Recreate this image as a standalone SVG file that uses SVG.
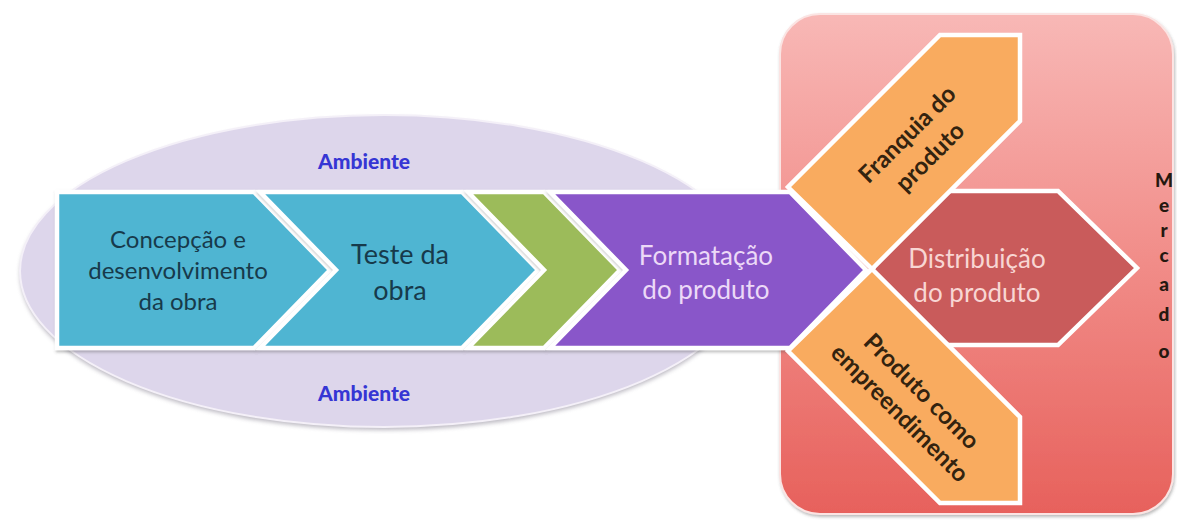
<svg xmlns="http://www.w3.org/2000/svg" width="1177" height="523" viewBox="0 0 1177 523">
<defs>
<linearGradient id="redGrad" x1="0" y1="0" x2="0" y2="1">
<stop offset="0" stop-color="#f8b8b6"/>
<stop offset="0.5" stop-color="#f18c88"/>
<stop offset="1" stop-color="#e7615c"/>
</linearGradient>
<filter id="shadow" x="-5%" y="-5%" width="110%" height="115%">
<feDropShadow dx="1" dy="2" stdDeviation="1.5" flood-color="#555" flood-opacity="0.4"/>
</filter>
<filter id="blur"><feGaussianBlur stdDeviation="2"/></filter>
</defs>
<style>
.shape { stroke: #ffffff; stroke-width: 4.5; stroke-linejoin: miter; }
.blue { fill: #50b5d2; }
.green { fill: #9cbb5a; }
.purple { fill: #8956c9; }
.dist { fill: #c95b5b; }
.orange { fill: #f9ab5f; }
.t { font-family: Lato, "Open Sans", sans-serif; text-anchor: middle; }
.tblue { fill: #173a4b; font-size: 24px; }
.tteste { fill: #173a4b; font-size: 27px; }
.tpurple { fill: #ecd9f7; font-size: 26px; }
.tdist { fill: #f8d6d3; font-size: 26px; }
.torange { fill: #33230f; font-size: 24px; font-weight: bold; }
.tamb { fill: #3636d4; font-size: 21px; font-weight: 900; }
.tmerc { fill: #25180f; font-size: 19px; font-weight: 900; }
</style>

<g id="ambiente">
<ellipse cx="384" cy="274" rx="364" ry="156" fill="#8f8a99" opacity="0.6" filter="url(#blur)"/>
<ellipse cx="384" cy="271" rx="364" ry="156" fill="#ddd6eb" stroke="#f4f0f8" stroke-width="2"/>
<text class="t tamb" x="364" y="169">Ambiente</text>
<text class="t tamb" x="364" y="401">Ambiente</text>
</g>

<g id="mercado">
<rect x="780" y="14" width="393" height="500" rx="40" ry="40" fill="url(#redGrad)" stroke="#fbe4e3" stroke-width="2" filter="url(#shadow)"/>
<text class="t tmerc" x="1164" y="187">M</text>
<text class="t tmerc" x="1164" y="212">e</text>
<text class="t tmerc" x="1164" y="237">r</text>
<text class="t tmerc" x="1164" y="262">c</text>
<text class="t tmerc" x="1164" y="291">a</text>
<text class="t tmerc" x="1164" y="321">d</text>
<text class="t tmerc" x="1164" y="358">o</text>
</g>

<g id="connectors"></g>

<g id="concepcao">
<path class="shape blue" filter="url(#shadow)" d="M57,192 L254,192 L330,270 L254,348 L57,348 Z"/>
<text class="t tblue" x="178" y="248">Concepção e</text>
<text class="t tblue" x="178" y="279">desenvolvimento</text>
<text class="t tblue" x="178" y="310">da obra</text>
</g>

<g id="teste">
<path class="shape blue" filter="url(#shadow)" d="M260,192 L462,192 L538,270 L462,348 L260,348 L336,270 Z"/>
<text class="t tteste" x="400" y="264">Teste da</text>
<text class="t tteste" x="400" y="300">obra</text>
</g>

<g id="etapa-verde">
<path class="shape green" filter="url(#shadow)" d="M468,192 L544,192 L620,270 L544,348 L468,348 L544,270 Z"/>
</g>

<g id="formatacao">
<path class="shape purple" filter="url(#shadow)" d="M550,192 L790,192 L866,270 L790,348 L550,348 L626,270 Z"/>
<text class="t tpurple" x="706" y="265">Formatação</text>
<text class="t tpurple" x="706" y="299">do produto</text>
</g>

<g id="distribuicao">
<path class="shape dist" d="M798,191 L1058,191 L1137,268 L1058,345 L798,345 L873,268 Z"/>
<text class="t tdist" x="977" y="268">Distribuição</text>
<text class="t tdist" x="977" y="302">do produto</text>
</g>

<g id="franquia">
<path class="shape orange" d="M1020,35 L940,35 L788,187 L872,269 L1020,121 Z"/>
<g transform="translate(918,145) rotate(-45)">
<text class="t torange" x="0" y="-7">Franquia do</text>
<text class="t torange" x="0" y="25">produto</text>
</g>
</g>

<g id="empreendimento">
<path class="shape orange" d="M872,269 L1020,417 L1020,503 L940,503 L788,351 Z"/>
<g transform="translate(911,402) rotate(45)">
<text class="t torange" x="0" y="-7">Produto como</text>
<text class="t torange" x="0" y="24">empreendimento</text>
</g>
</g>
</svg>
